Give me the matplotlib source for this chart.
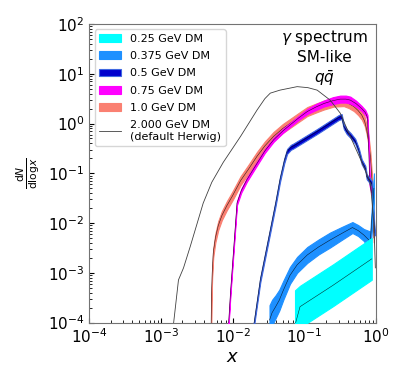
import numpy as np
import matplotlib
matplotlib.use("Agg")
import matplotlib.pyplot as plt

# values (x, dN/dlogx, band half-width in decades)
x_025 = [0.0741, 0.0871, 0.251, 0.871]
y_025 = [8.9e-5, 2.09e-4, 5.62e-4, 1.91e-3]
w_025 = [0.70, 0.42, 0.42, 0.42]

x_0375 = [0.0327, 0.0355, 0.0398, 0.0447, 0.0513, 0.0631, 0.0794, 0.110, 0.158, 0.229,
          0.331, 0.468, 0.562, 0.676, 0.832, 0.933]
y_0375 = [1.12e-4, 1.58e-4, 2.09e-4, 2.82e-4, 4.57e-4, 8.91e-4, 1.45e-3, 2.29e-3, 3.31e-3, 4.57e-3,
          6.17e-3, 8.13e-3, 7.08e-3, 5.75e-3, 4.27e-3, 0.05]
w_0375 = [0.30, 0.26, 0.23, 0.21, 0.19, 0.17, 0.16, 0.16, 0.15, 0.15,
          0.13, 0.11, 0.11, 0.12, 0.20, 0.30]

x_05 = [0.0195, 0.0243, 0.0335, 0.0398, 0.0457, 0.0525, 0.0575, 0.0646, 0.0708, 0.151,
        0.302, 0.331, 0.355, 0.389, 0.447, 0.513, 0.575, 0.631, 0.708, 0.741, 0.871, 0.955]
y_05 = [7.9e-5, 7.2e-4, 7.2e-3, 0.0251, 0.0741, 0.178, 0.275, 0.331, 0.355, 0.692,
        1.32, 1.38, 0.871, 0.692, 0.562, 0.437, 0.282, 0.17, 0.126, 0.0851, 0.063, 6.3e-3]
w_05 = [0.05] * len(x_05)

x_075 = [8.71e-3, 9.33e-3, 0.01, 0.0115, 0.0132, 0.0158, 0.0219, 0.0282, 0.0372, 0.0501,
         0.0631, 0.0832, 0.110, 0.145, 0.186, 0.251, 0.316, 0.380, 0.437, 0.525,
         0.631, 0.708, 0.759, 0.794, 0.813, 0.871]
y_075 = [7.9e-5, 3.98e-4, 1.58e-3, 0.0251, 0.0447, 0.0741, 0.158, 0.282, 0.468, 0.708,
         0.933, 1.29, 1.74, 2.14, 2.51, 2.88, 3.09, 3.09, 2.95, 2.51,
         2.0, 1.66, 1.32, 0.251, 0.063, 0.04]
w_075 = [0.04] * 12 + [0.05, 0.06, 0.06, 0.07, 0.07, 0.07, 0.07, 0.06] + [0.05] * 6

x_10 = [5.01e-3, 5.07e-3, 5.19e-3, 5.37e-3, 5.75e-3, 6.31e-3, 7.08e-3, 8.32e-3, 0.01, 0.0129,
        0.0166, 0.0219, 0.0282, 0.0372, 0.0501, 0.0631, 0.0832, 0.110, 0.145, 0.186,
        0.257, 0.355, 0.417, 0.490, 0.562, 0.631, 0.692, 0.741, 0.794, 0.832, 0.891, 0.933]
y_10 = [7.9e-5, 3.16e-4, 1e-3, 2.51e-3, 5.01e-3, 8.91e-3, 0.0141, 0.0224, 0.0355, 0.0708,
        0.120, 0.219, 0.355, 0.550, 0.794, 1.0, 1.32, 1.74, 2.04, 2.34,
        2.69, 2.75, 2.51, 2.19, 1.82, 1.48, 1.12, 0.741, 0.398, 0.219, 0.05, 5.0e-3]
w_10 = [0.09] * len(x_10)

x_hw = [0.00148, 0.00176, 0.00207, 0.00257, 0.00389, 0.00513, 0.00741, 0.0129, 0.0219, 0.0282,
        0.0335, 0.0457, 0.0794, 0.112, 0.151, 0.229, 0.316, 0.437, 0.676, 0.832, 0.933, 0.977]
y_hw = [7.9e-5, 7.2e-4, 1.26e-3, 3.4e-3, 0.0251, 0.0661, 0.166, 0.55, 1.86, 3.16,
        4.07, 4.68, 5.5, 5.25, 4.68, 2.95, 1.62, 0.55, 0.135, 0.063, 0.01, 0.00126]

labels = ["0.25 GeV DM", "0.375 GeV DM", "0.5 GeV DM", "0.75 GeV DM", "1.0 GeV DM"]

fig = plt.figure(figsize=(4.07, 3.8), dpi=100)
ax = fig.add_axes([0.219, 0.151, 0.705, 0.786])


def band(x, y, w, face, edge, label, z):
    x = np.array(x)
    y = np.array(y)
    w = np.array(w)
    h = ax.fill_between(x, y / 10**w, y * 10**w, facecolor=face, edgecolor=edge,
                        linewidth=0.8, label=label, zorder=z)
    ax.plot(x, y, color="k", lw=0.4, alpha=0.8, zorder=z + 0.1)
    return h


h10 = band(x_10, y_10, w_10, "salmon", "salmon", labels[4], 2)
h075 = band(x_075, y_075, w_075, "magenta", "magenta", labels[3], 3)
h05 = band(x_05, y_05, w_05, "mediumblue", "royalblue", labels[2], 4)
h0375 = band(x_0375, y_0375, w_0375, "dodgerblue", "dodgerblue", labels[1], 5)
h025 = band(x_025, y_025, w_025, "cyan", "cyan", labels[0], 6)
hhw, = ax.plot(x_hw, y_hw, color="0.25", lw=0.6, zorder=7,
               label="2.000 GeV DM\n(default Herwig)")

ax.set_xscale("log")
ax.set_yscale("log")
ax.set_xlim(1e-4, 1)
ax.set_ylim(1e-4, 1e2)
ax.tick_params(which="both", direction="in", labelsize=11)
for s in ax.spines.values():
    s.set_color("0.45")

ax.set_xlabel("$x$", fontsize=13, labelpad=1)
ax.set_ylabel(r"$\frac{\mathrm{d}N}{\mathrm{dlog}x}$", fontsize=11)

ax.text(0.82, 0.985, "$\\gamma$ spectrum\nSM-like\n$q\\bar{q}$", transform=ax.transAxes,
        ha="center", va="top", fontsize=11, linespacing=1.25)

ax.legend(handles=[h025, h0375, h05, h075, h10, hhw], loc="upper left", fontsize=8,
          labelspacing=0.65)

plt.savefig("out.png", dpi=100)
